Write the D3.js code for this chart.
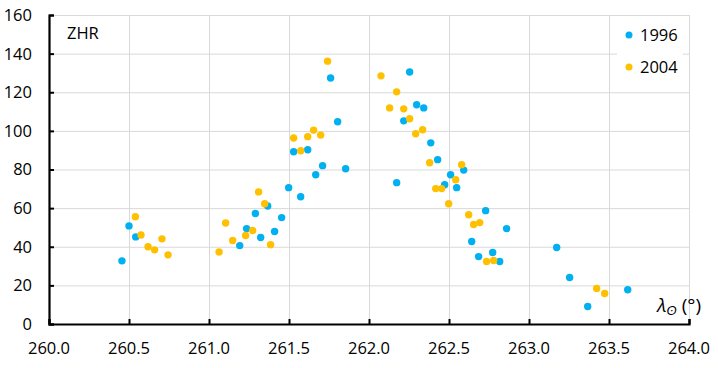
<!DOCTYPE html>
<html>
<head>
<meta charset="utf-8">
<script src="https://cdn.jsdelivr.net/npm/d3@7"></script>
<style>
  body { margin: 0; background: #fff; }
  text { font-family: "Open Sans", "Liberation Sans", sans-serif; fill: #000; }
</style>
</head>
<body>
<div id="chart"></div>
<script>
// ZHR vs solar longitude, two years

// 1996 (blue)
let lon1996 = [260.456, 260.50, 260.542, 261.192, 261.235, 261.29, 261.323, 261.367, 261.41, 261.454,
  261.498, 261.529, 261.573, 261.617, 261.667, 261.71, 261.76, 261.804, 261.854, 262.173,
  262.217, 262.254, 262.298, 262.342, 262.386, 262.429, 262.473, 262.51, 262.548, 262.592,
  262.642, 262.685, 262.729, 262.773, 262.817, 262.86, 263.173, 263.254, 263.367, 263.617]
let zhr1996 = [32.7, 50.8, 45.1, 40.6, 49.4, 57.2, 44.8, 61.1, 47.9, 55.1,
  70.6, 89.2, 65.9, 90.2, 77.3, 82.0, 127.4, 104.7, 80.4, 73.2,
  105.2, 130.5, 113.5, 111.9, 93.8, 85.1, 72.1, 77.3, 70.6, 79.7,
  42.7, 34.9, 58.7, 37.0, 32.4, 49.4, 39.6, 24.1, 9.1, 17.7]

// 2004 (orange)
let lon2004 = [260.54, 260.575, 260.619, 260.66, 260.706, 260.744, 261.063, 261.104, 261.148, 261.229,
  261.273, 261.31, 261.348, 261.385, 261.529, 261.573, 261.617, 261.654, 261.698, 261.741,
  262.075, 262.129, 262.173, 262.217, 262.254, 262.292, 262.335, 262.379, 262.417, 262.454,
  262.498, 262.542, 262.579, 262.623, 262.654, 262.692, 262.735, 262.779, 263.423, 263.473]
let zhr2004 = [55.5, 46.1, 40.0, 38.4, 44.1, 35.8, 37.3, 52.3, 43.2, 45.8,
  48.4, 68.4, 62.3, 41.1, 96.3, 89.7, 97.0, 100.4, 97.8, 136.1,
  128.5, 111.9, 120.2, 111.4, 106.3, 98.5, 100.6, 83.5, 70.1, 70.1,
  62.3, 74.7, 82.5, 56.6, 51.5, 52.5, 32.4, 32.9, 18.4, 15.8]

let xTicks = [260.0, 260.5, 261.0, 261.5, 262.0, 262.5, 263.0, 263.5, 264.0]
let yTicks = [0, 20, 40, 60, 80, 100, 120, 140, 160]
let seriesNames = ["1996", "2004"]
let seriesColors = ["#00b0f0", "#ffc000"]

let W = 718, H = 368
let plotL = 49, plotR = 689, plotT = 15, plotB = 324

let svg = d3.select("#chart").append("svg")
  .attr("width", W)
  .attr("height", H)

let x = d3.scaleLinear().domain([260, 264]).range([plotL, plotR])
let y = d3.scaleLinear().domain([0, 160]).range([plotB, plotT])

// gridlines
svg.append("g")
  .selectAll("line")
  .data(yTicks)
  .enter()
  .append("line")
  .attr("x1", plotL).attr("x2", plotR)
  .attr("y1", d => y(d) + 0.5).attr("y2", d => y(d) + 0.5)
  .attr("stroke", "#d9d9d9")
  .attr("stroke-width", 1)

svg.append("g")
  .selectAll("line")
  .data(xTicks)
  .enter()
  .append("line")
  .attr("x1", d => x(d) + 0.5).attr("x2", d => x(d) + 0.5)
  .attr("y1", plotT).attr("y2", plotB)
  .attr("stroke", "#d9d9d9")
  .attr("stroke-width", 1)

// axes, ticks pointing inward
let xAxis = d3.axisTop(x).tickValues(xTicks).tickSize(5).tickFormat("")
let yAxis = d3.axisRight(y).tickValues(yTicks).tickSize(5).tickFormat("")

let gx = svg.append("g")
  .attr("transform", `translate(0,${plotB})`)
  .call(xAxis)
let gy = svg.append("g")
  .attr("transform", `translate(${plotL},0)`)
  .call(yAxis)

for (let g of [gx, gy]) {
  g.select(".domain").attr("stroke", "#000").attr("stroke-width", 2.2)
  g.selectAll(".tick line").attr("stroke", "#000").attr("stroke-width", 2)
}

// tick labels
svg.append("g")
  .selectAll("text")
  .data(xTicks)
  .enter()
  .append("text")
  .attr("x", d => x(d))
  .attr("y", 348)
  .attr("dy", "0.36em")
  .attr("text-anchor", "middle")
  .attr("font-size", 16.5)
  .text(d => d.toFixed(1))

svg.append("g")
  .selectAll("text")
  .data(yTicks)
  .enter()
  .append("text")
  .attr("x", 32)
  .attr("y", d => y(d))
  .attr("dy", "0.36em")
  .attr("text-anchor", "end")
  .attr("font-size", 16.5)
  .text(d => d)

// legend box (covers gridlines)
svg.append("rect")
  .attr("x", 617).attr("y", 20)
  .attr("width", 66).attr("height", 64)
  .attr("fill", "#fff")

// points
let pts1996 = lon1996.map((d, i) => [d, zhr1996[i]])
let pts2004 = lon2004.map((d, i) => [d, zhr2004[i]])

;[pts1996, pts2004].forEach((pts, k) => {
  svg.append("g")
    .selectAll("circle")
    .data(pts)
    .enter()
    .append("circle")
    .attr("cx", d => x(d[0]))
    .attr("cy", d => y(d[1]))
    .attr("r", 3.7)
    .attr("fill", seriesColors[k])
})

// legend
let legend = svg.append("g")
  .selectAll("g")
  .data(seriesNames)
  .enter()
  .append("g")
  .attr("transform", (d, i) => `translate(629,${35 + i * 32})`)

legend.append("circle")
  .attr("r", 3.5)
  .attr("fill", (d, i) => seriesColors[i])

legend.append("text")
  .attr("x", 11)
  .attr("dy", "0.36em")
  .attr("font-size", 16.5)
  .text(d => d)

// labels
svg.append("text")
  .attr("x", 67)
  .attr("y", 33)
  .attr("dy", "0.36em")
  .attr("font-size", 16.5)
  .text("ZHR")

let xl = svg.append("text")
  .attr("x", 701)
  .attr("y", 312)
  .attr("text-anchor", "end")
  .attr("font-size", 19)
xl.append("tspan").attr("font-style", "italic").text("λ")
xl.append("tspan").attr("font-style", "italic").attr("font-size", 13).attr("dy", 3).text("ʘ")
xl.append("tspan").attr("dy", -3).text(" (°)")
</script>
</body>
</html>
